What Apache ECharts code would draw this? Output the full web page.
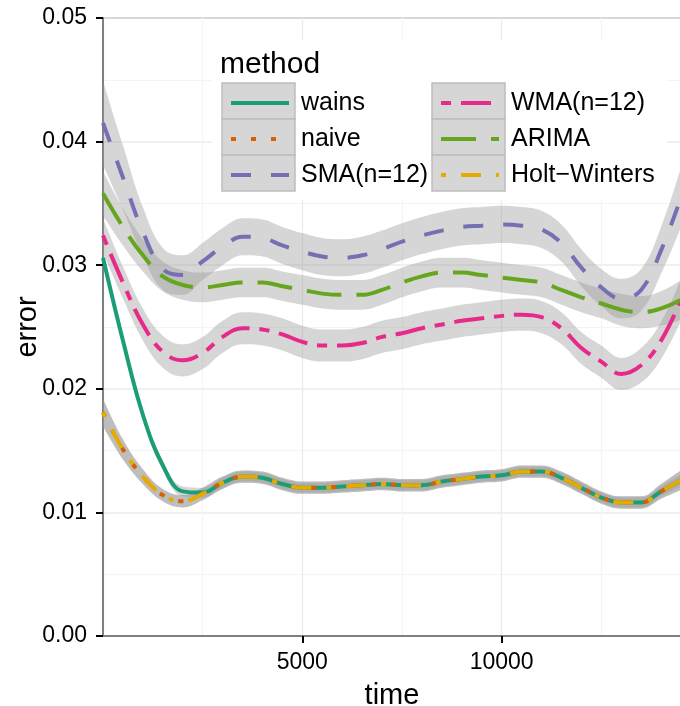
<!DOCTYPE html>
<html>
<head>
<meta charset="utf-8">
<script src="https://cdn.jsdelivr.net/npm/echarts@6/dist/echarts.min.js"></script>
<style>
  html, body { margin: 0; padding: 0; background: #fff; }
  #chart { width: 680px; height: 706px; }
</style>
</head>
<body>
<div id="chart"></div>
<script>
// time steps (evenly spaced, so a category axis keeps the spacing)
const time = [0, 500, 1000, 1500, 2000, 2500, 3000, 3500, 4000, 4500, 5000, 5500, 6000, 6500, 7000,
  7500, 8000, 8500, 9000, 9500, 10000, 10500, 11000, 11500, 12000, 12500, 13000, 13500, 14000, 14500];

const methods = ["wains", "naive", "SMA(n=12)", "WMA(n=12)", "ARIMA", "Holt\u2212Winters"];

// smoothed error per method
const wains = [0.0306, 0.0239, 0.0179, 0.0138, 0.0117, 0.0116, 0.0124, 0.0129, 0.0128, 0.0123, 0.0120, 0.0120, 0.0121, 0.0122, 0.0123,
  0.0122, 0.0122, 0.0125, 0.0127, 0.0129, 0.0130, 0.0133, 0.0133, 0.0128, 0.0120, 0.0112, 0.0108, 0.0108, 0.0117, 0.0126];
const naive = [0.0181, 0.0151, 0.0129, 0.0114, 0.0109, 0.0115, 0.0124, 0.0129, 0.0128, 0.0123, 0.0120, 0.0120, 0.0121, 0.0122, 0.0123,
  0.0122, 0.0122, 0.0125, 0.0127, 0.0129, 0.0130, 0.0133, 0.0133, 0.0128, 0.0120, 0.0112, 0.0108, 0.0108, 0.0117, 0.0126];
const sma = [0.0415, 0.0371, 0.0327, 0.0297, 0.0292, 0.0303, 0.0315, 0.0323, 0.0322, 0.0316, 0.0311, 0.0307, 0.0306, 0.0308, 0.0313,
  0.0319, 0.0324, 0.0328, 0.0331, 0.0332, 0.0333, 0.0332, 0.0329, 0.0318, 0.0298, 0.0282, 0.0273, 0.0280, 0.0312, 0.0355];
const wma = [0.0324, 0.0286, 0.0252, 0.0230, 0.0223, 0.0229, 0.0242, 0.0249, 0.0248, 0.0244, 0.0238, 0.0235, 0.0235, 0.0237, 0.0242,
  0.0245, 0.0249, 0.0252, 0.0255, 0.0257, 0.0259, 0.0260, 0.0258, 0.0249, 0.0233, 0.0222, 0.0212, 0.0219, 0.0239, 0.0272];
const arima = [0.0358, 0.0331, 0.0308, 0.0291, 0.0284, 0.0282, 0.0284, 0.0286, 0.0286, 0.0283, 0.0280, 0.0277, 0.0276, 0.0276, 0.0280,
  0.0286, 0.0291, 0.0294, 0.0294, 0.0292, 0.0290, 0.0288, 0.0286, 0.0280, 0.0274, 0.0269, 0.0264, 0.0262, 0.0265, 0.0272];
const holt = [0.0181, 0.0151, 0.0129, 0.0114, 0.0109, 0.0115, 0.0124, 0.0129, 0.0128, 0.0123, 0.0120, 0.0120, 0.0121, 0.0122, 0.0123,
  0.0122, 0.0122, 0.0125, 0.0127, 0.0129, 0.0130, 0.0133, 0.0133, 0.0128, 0.0120, 0.0112, 0.0108, 0.0108, 0.0117, 0.0126];

// half width of the confidence band
const seWains = [0.0005, 0.0004, 0.0004, 0.0004, 0.0004, 0.0004, 0.0004, 0.0004, 0.0004, 0.0004, 0.0004, 0.0004, 0.0004, 0.0004, 0.0004,
  0.0004, 0.0004, 0.0004, 0.0004, 0.0004, 0.0004, 0.0004, 0.0004, 0.0004, 0.0004, 0.0004, 0.0004, 0.0004, 0.0004, 0.0005];
const seNaive = [0.0011, 0.0008, 0.0006, 0.0005, 0.0005, 0.0005, 0.0005, 0.0005, 0.0005, 0.0005, 0.0005, 0.0005, 0.0005, 0.0005, 0.0005,
  0.0005, 0.0005, 0.0005, 0.0005, 0.0005, 0.0005, 0.0005, 0.0005, 0.0005, 0.0005, 0.0005, 0.0005, 0.0005, 0.0006, 0.0008];
const seSma = [0.0034, 0.0026, 0.0020, 0.0017, 0.0016, 0.0015, 0.0015, 0.0015, 0.0015, 0.0015, 0.0015, 0.0015, 0.0015, 0.0015, 0.0015,
  0.0015, 0.0015, 0.0015, 0.0015, 0.0015, 0.0015, 0.0015, 0.0015, 0.0015, 0.0015, 0.0015, 0.0016, 0.0017, 0.0019, 0.0024];
const seWma = [0.0014, 0.0013, 0.0013, 0.0013, 0.0013, 0.0013, 0.0013, 0.0013, 0.0013, 0.0013, 0.0013, 0.0013, 0.0013, 0.0013, 0.0013,
  0.0013, 0.0013, 0.0013, 0.0013, 0.0013, 0.0013, 0.0013, 0.0013, 0.0013, 0.0013, 0.0013, 0.0013, 0.0014, 0.0015, 0.0017];
const seArima = [0.0018, 0.0015, 0.0013, 0.0012, 0.0012, 0.0012, 0.0012, 0.0012, 0.0012, 0.0012, 0.0012, 0.0012, 0.0012, 0.0012, 0.0012,
  0.0012, 0.0012, 0.0012, 0.0012, 0.0012, 0.0012, 0.0012, 0.0012, 0.0012, 0.0012, 0.0012, 0.0013, 0.0013, 0.0014, 0.0016];
const seHolt = [0.0011, 0.0008, 0.0006, 0.0005, 0.0005, 0.0005, 0.0005, 0.0005, 0.0005, 0.0005, 0.0005, 0.0005, 0.0005, 0.0005, 0.0005,
  0.0005, 0.0005, 0.0005, 0.0005, 0.0005, 0.0005, 0.0005, 0.0005, 0.0005, 0.0005, 0.0005, 0.0005, 0.0005, 0.0006, 0.0008];

const xTicks = [5000, 10000];

const fits = [wains, naive, sma, wma, arima, holt];
const ses = [seWains, seNaive, seSma, seWma, seArima, seHolt];
const colors = ["#1B9E77", "#D95F02", "#7570B3", "#E7298A", "#66A61E", "#E6AB02"];
const dashes = ["solid", [5, 15], [20, 20], [10, 10, 30, 10], [35, 15], [5, 15, 20, 15]];

const font = "'Liberation Sans', Arial, sans-serif";
const smooth = 0.4;

// ribbon first, then line, per method (same order ggplot draws groups)
const series = [];
methods.forEach((m, i) => {
  const fit = fits[i], se = ses[i];
  series.push({
    name: m + " lo", type: "line", stack: "band" + i, silent: true,
    symbol: "none", smooth: smooth,
    lineStyle: { width: 0 },
    data: fit.map((v, j) => v - se[j])
  });
  series.push({
    name: m + " band", type: "line", stack: "band" + i, silent: true,
    symbol: "none", smooth: smooth,
    lineStyle: { width: 0 },
    areaStyle: { color: "#999999", opacity: 0.4 },
    data: se.map(s => 2 * s)
  });
  series.push({
    name: m, type: "line", symbol: "none", smooth: smooth,
    itemStyle: { color: colors[i] },
    lineStyle: { color: colors[i], width: 4, type: dashes[i], cap: "butt" },
    data: fit
  });
});

const legendBase = {
  orient: "vertical", top: 85, padding: 0,
  itemWidth: 58, itemHeight: 36, itemGap: 0,
  selectedMode: false, z: 10,
  itemStyle: { opacity: 0 },
  lineStyle: { width: 4 },
  textStyle: { fontSize: 25, lineHeight: 36, fontFamily: font, color: "#000", padding: [0, 0, 0, 7] }
};

const keyBoxes = methods.map((m, i) => ({
  type: "rect", z: 4,
  shape: { x: 222 + 210 * Math.floor(i / 3), y: 83 + 36 * (i % 3), width: 73, height: 36 },
  style: { fill: "#d6d6d6", stroke: "#bdbdbd", lineWidth: 1.5 }
}));

const isTick = (idx, val) => xTicks.indexOf(Number(val)) >= 0;

const chart = echarts.init(document.getElementById("chart"), null, { renderer: "canvas" });
chart.setOption({
  animation: false,
  backgroundColor: "#fff",
  textStyle: { fontFamily: font },
  title: {
    text: "method", left: 220, top: 50, padding: 0, z: 10,
    textStyle: { fontSize: 30, fontWeight: "normal", fontFamily: font, color: "#000" }
  },
  grid: {
    left: 103, top: 18, right: -1, bottom: 70,
    outerBoundsMode: "none", containLabel: false,
    show: true, borderColor: "#7f7f7f", borderWidth: 1.5, backgroundColor: "transparent"
  },
  xAxis: {
    type: "category", data: time.map(String), boundaryGap: false,
    name: "time", nameLocation: "middle", nameGap: 45, nameMoveOverlap: false,
    nameTextStyle: { fontSize: 29, color: "#000", fontFamily: font },
    axisLine: { show: true, lineStyle: { color: "#7f7f7f", width: 2 } },
    axisTick: { show: true, interval: isTick, length: 7, lineStyle: { color: "#000", width: 2 } },
    axisLabel: { interval: isTick, fontSize: 23, color: "#000", margin: 15, fontFamily: font },
    splitLine: { show: true, interval: idx => idx % 5 === 0, lineStyle: { color: ["#ebebeb", "#f4f4f4"], width: 1.3 } }
  },
  yAxis: {
    type: "value", min: 0, max: 0.05, interval: 0.01,
    name: "error", nameLocation: "middle", nameGap: 61, nameRotate: 90, nameMoveOverlap: false,
    nameTextStyle: { fontSize: 29, color: "#000", fontFamily: font },
    axisLine: { show: true, lineStyle: { color: "#7f7f7f", width: 2 } },
    axisTick: { show: true, length: 7, lineStyle: { color: "#000", width: 2 } },
    axisLabel: { fontSize: 23, color: "#000", margin: 16, fontFamily: font, formatter: v => v.toFixed(2) },
    splitLine: { show: true, lineStyle: { color: "#ebebeb", width: 1.5 } },
    minorTick: { show: false, splitNumber: 2 },
    minorSplitLine: { show: true, lineStyle: { color: "#f4f4f4", width: 1 } }
  },
  legend: [
    Object.assign({ data: methods.slice(0, 3), left: 229 }, legendBase),
    Object.assign({ data: methods.slice(3), left: 439 }, legendBase)
  ],
  graphic: [
    { type: "rect", z: 3, shape: { x: 212, y: 40, width: 455, height: 160 }, style: { fill: "#fff" } }
  ].concat(keyBoxes),
  series: series
});
</script>
</body>
</html>
